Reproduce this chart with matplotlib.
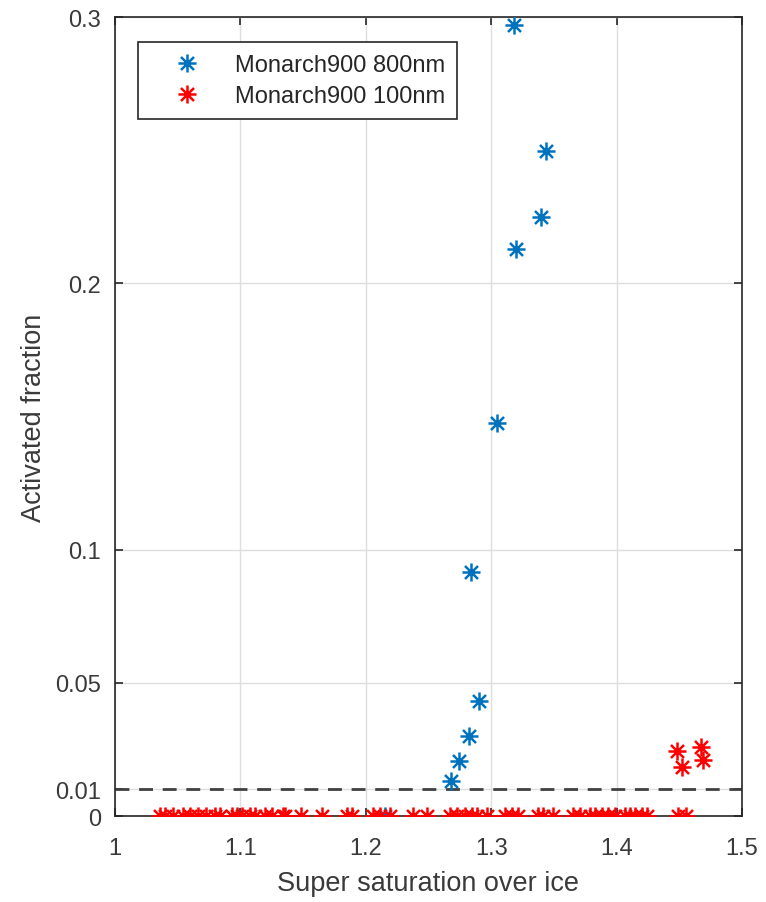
import matplotlib.pyplot as plt
import numpy as np
from matplotlib.path import Path

# blue series: Monarch900 800nm
ss_800 = [1.318, 1.344, 1.340, 1.320, 1.305, 1.284, 1.290, 1.282, 1.274, 1.268, 1.215]
af_800 = [0.297, 0.2497, 0.225, 0.213, 0.1477, 0.0915, 0.0431, 0.030, 0.0206, 0.0131, 0.0]

# red series: Monarch900 100nm (mostly zero)
ss_100 = [1.036, 1.040, 1.046, 1.054, 1.060, 1.066, 1.073, 1.080, 1.084, 1.093, 1.097,
          1.101, 1.108, 1.112, 1.120, 1.125, 1.134, 1.136, 1.148, 1.165, 1.185, 1.189,
          1.206, 1.211, 1.219, 1.238, 1.249, 1.267, 1.273, 1.279, 1.285, 1.289, 1.297,
          1.311, 1.317, 1.321, 1.337, 1.341, 1.349, 1.365, 1.371, 1.379, 1.383, 1.388,
          1.393, 1.399, 1.407, 1.411, 1.415, 1.420, 1.424, 1.449, 1.455,
          1.448, 1.452, 1.467, 1.469]
af_100 = [0.0] * 53 + [0.0245, 0.0184, 0.026, 0.021]

threshold = 0.01
xticks = [1, 1.1, 1.2, 1.3, 1.4, 1.5]
yticks = [0, 0.01, 0.05, 0.1, 0.2, 0.3]
ytick_labels = ['0', '0.01', '0.05', '0.1', '0.2', '0.3']

# matlab-like asterisk marker
d = 0.72
verts = [(-1, 0), (1, 0), (0, -1), (0, 1), (-d, -d), (d, d), (-d, d), (d, -d)]
codes = [Path.MOVETO, Path.LINETO] * 4
asterisk = Path(verts, codes)

plt.rcParams['font.family'] = ['Liberation Sans', 'DejaVu Sans']
dark = '#262626'
label_col = '#3a3a3a'

fig = plt.figure(figsize=(7.66, 9.03), dpi=100)
ax = fig.add_axes([0.150, 0.0952, 0.8187, 0.8848])

ax.plot([1, 1.5], [threshold, threshold], color='#404040', lw=2, ls=(0, (5, 3.5)), zorder=2)
ax.plot(ss_800, af_800, ls='none', marker=asterisk, ms=13, mew=1.8,
        color='#0072BD', label='Monarch900 800nm', zorder=3)
ax.plot(ss_100, af_100, ls='none', marker=asterisk, ms=13, mew=1.8,
        color='#FF0000', label='Monarch900 100nm', zorder=4)

ax.set_xlim(1, 1.5)
ax.set_ylim(0, 0.3)
ax.set_xticks(xticks)
ax.set_xticklabels(['1', '1.1', '1.2', '1.3', '1.4', '1.5'])
ax.set_yticks(yticks)
ax.set_yticklabels(ytick_labels)
ax.grid(True, color='#dedede', lw=1)
ax.set_axisbelow(True)
ax.tick_params(direction='in', length=6, width=1.2, top=True, right=True,
               labelsize=17, colors=dark, labelcolor=label_col)
ax.tick_params(axis='x', pad=15)
ax.tick_params(axis='y', pad=10)
for s in ax.spines.values():
    s.set_color(dark)
    s.set_linewidth(1.2)

ax.set_xlabel('Super saturation over ice', fontsize=19.5, color=label_col, labelpad=8)
ax.set_ylabel('Activated fraction', fontsize=19.5, color=label_col, labelpad=6)

leg = ax.legend(loc='upper left', bbox_to_anchor=(0.0367, 0.9687), borderaxespad=0,
                fontsize=17, frameon=True, fancybox=False, edgecolor=dark,
                handlelength=3.2, handletextpad=0.4, borderpad=0.5, labelspacing=0.4)
leg.get_frame().set_linewidth(1.2)
leg.get_frame().set_alpha(1)
for t in leg.get_texts():
    t.set_color(dark)

fig.savefig('out.png', dpi=100)
